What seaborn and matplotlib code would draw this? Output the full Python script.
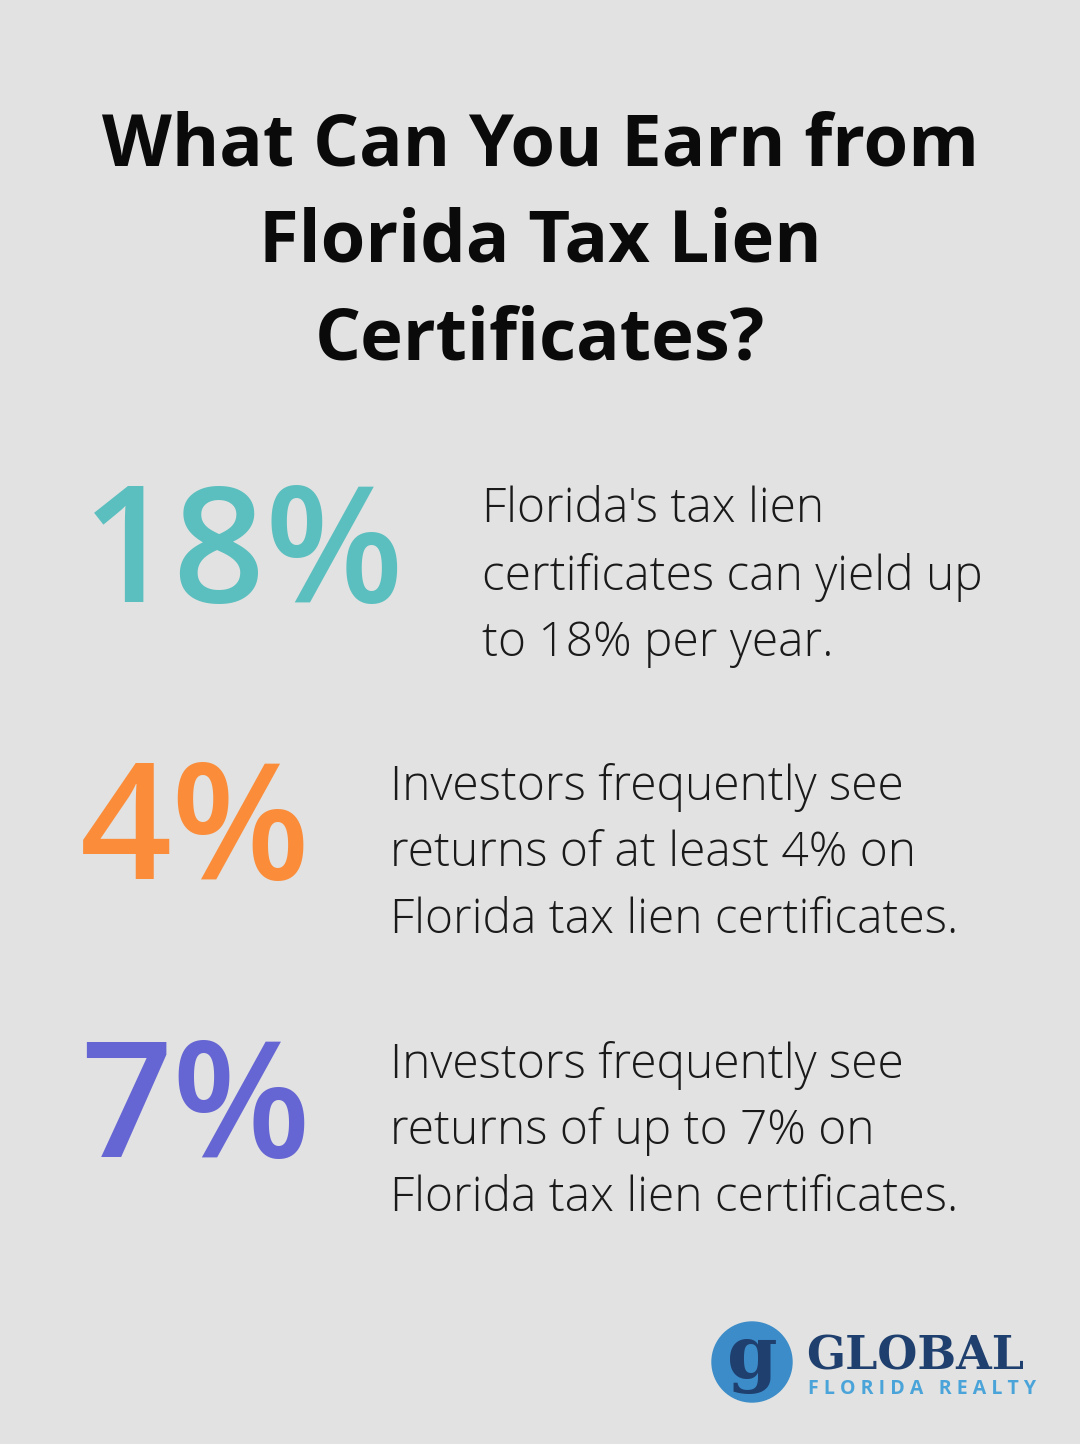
import matplotlib
matplotlib.use("Agg")
import matplotlib.pyplot as plt
import seaborn as sns
from matplotlib.patches import Circle

title_lines = ["What Can You Earn from", "Florida Tax Lien", "Certificates?"]
stat_values = ["18%", "4%", "7%"]
stat_colors = ["#5bbfbf", "#fb8c3a", "#6565d3"]
stat_texts = [
    ["Florida's tax lien", "certificates can yield up", "to 18% per year."],
    ["Investors frequently see", "returns of at least 4% on", "Florida tax lien certificates."],
    ["Investors frequently see", "returns of up to 7% on", "Florida tax lien certificates."],
]

sns.set_theme(style="white", rc={"font.family": "Open Sans"})
W, H = 1080, 1444
fig = plt.figure(figsize=(W / 100, H / 100), dpi=100)
bg = "#e1e2e1"
fig.patch.set_facecolor(bg)
ax = fig.add_axes([0, 0, 1, 1])
ax.set_xlim(0, W)
ax.set_ylim(H, 0)
ax.axis("off")
ax.set_facecolor(bg)

for i, line in enumerate(title_lines):
    ax.text(540, 146 + i * 97, line, ha="center", va="center", fontsize=52,
            fontweight="bold", color="#0a0a0a")

num_x = [82, 80, 80]
txt_x = [482, 390, 390]
row_y = [560, 837, 1115]
for i, (v, c, lines) in enumerate(zip(stat_values, stat_colors, stat_texts)):
    ax.text(num_x[i], row_y[i], v, ha="left", va="center", fontsize=116,
            color=c, fontweight="semibold")
    for j, l in enumerate(lines):
        ax.text(txt_x[i], row_y[i] - 50 + j * 67, l, ha="left", va="center",
                fontsize=34.5, color="#1a1a1a", fontweight="light")

# logo
ax.add_patch(Circle((752, 1362), 40, color="#3b8cc9"))
ax.text(752, 1358, "g", ha="center", va="center", fontsize=52, color="#1f3f6e",
        fontweight="bold", family="DejaVu Serif")
ax.text(806, 1356, "GLOBAL", ha="left", va="center", fontsize=33, color="#1f3f6e",
        fontweight="bold", family="DejaVu Serif")
ax.text(808, 1389, "F L O R I D A   R E A L T Y", ha="left", va="center", fontsize=14,
        color="#4ba4d9", fontweight="bold")

fig.savefig("out.png", dpi=100, facecolor=bg)
